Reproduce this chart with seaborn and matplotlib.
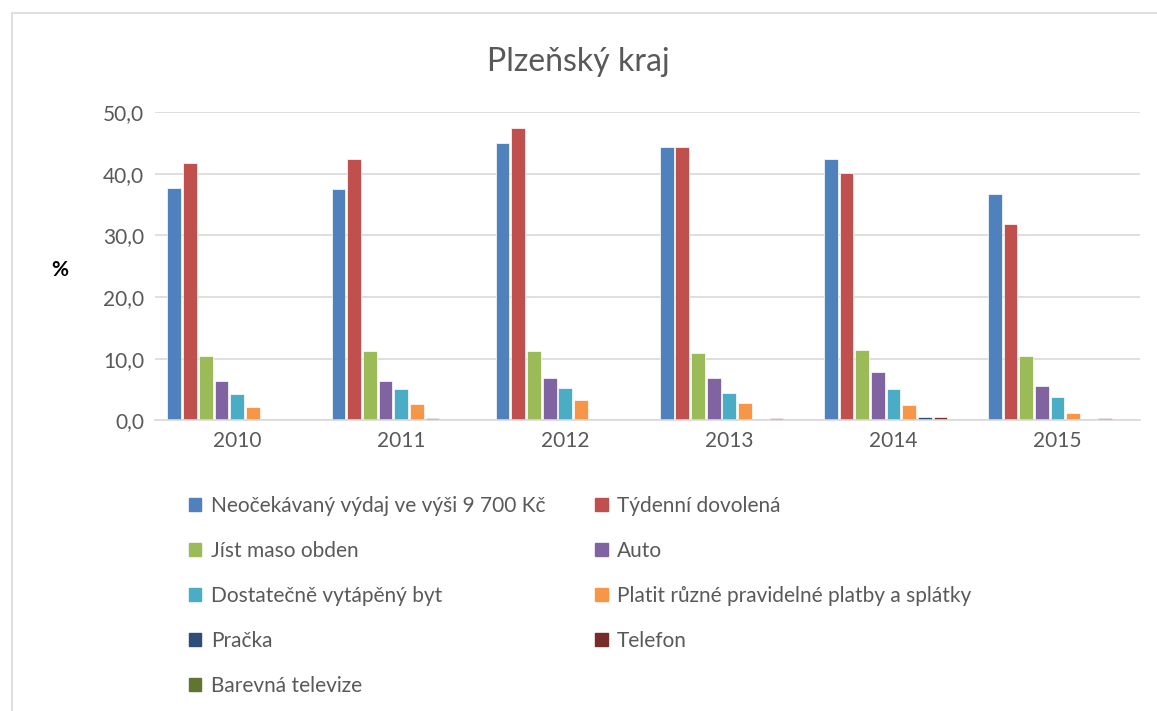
import seaborn as sns
import matplotlib.pyplot as plt
import matplotlib.patches as mpatches
import pandas as pd
from matplotlib.ticker import FuncFormatter

years = ["2010", "2011", "2012", "2013", "2014", "2015"]
series = [
    "Neočekávaný výdaj ve výši 9 700 Kč",
    "Týdenní dovolená",
    "Jíst maso obden",
    "Auto",
    "Dostatečně vytápěný byt",
    "Platit různé pravidelné platby a splátky",
    "Pračka",
    "Telefon",
    "Barevná televize",
]
neocekavany = [37.7, 37.6, 45.0, 44.3, 42.4, 36.7]
dovolena = [41.7, 42.5, 47.4, 44.4, 40.1, 31.9]
maso = [10.5, 11.2, 11.3, 10.9, 11.4, 10.5]
auto = [6.3, 6.3, 6.8, 6.9, 7.8, 5.5]
byt = [4.3, 5.1, 5.2, 4.4, 5.0, 3.8]
platby = [2.1, 2.6, 3.2, 2.8, 2.4, 1.2]
pracka = [0.2, 0.3, 0.0, 0.0, 0.5, 0.0]
telefon = [0.1, 0.0, 0.0, 0.3, 0.5, 0.4]
televize = [0.0, 0.0, 0.0, 0.0, 0.0, 0.0]
colors = ["#4F81BD", "#C0504D", "#9BBB59", "#8064A2", "#4BACC6",
          "#F79646", "#2C4D75", "#772C2A", "#5F7530"]

values = [neocekavany, dovolena, maso, auto, byt, platby, pracka, telefon, televize]
df = pd.DataFrame(
    [(y, s, v) for s, vals in zip(series, values) for y, v in zip(years, vals)],
    columns=["rok", "polozka", "hodnota"],
)

sns.set_theme(style="white")
plt.rcParams["font.family"] = ["Lato", "DejaVu Sans"]

fig = plt.figure(figsize=(11.57, 7.11), dpi=100)
ax = fig.add_axes([0.134, 0.409, 0.851, 0.433])

sns.barplot(data=df, x="rok", y="hodnota", hue="polozka", hue_order=series,
            palette=colors, saturation=1, width=0.86, gap=0.12, ax=ax, legend=False,
            edgecolor="white", linewidth=0.5)

ax.set_ylim(0, 50)
ax.set_xlim(-0.5, 5.5)
ax.set_yticks([0, 10, 20, 30, 40, 50])
ax.yaxis.set_major_formatter(FuncFormatter(lambda v, p: f"{v:.1f}".replace(".", ",")))
ax.yaxis.grid(True, color="#D9D9D9", linewidth=1.2)
ax.set_axisbelow(True)
for side in ["top", "right", "left"]:
    ax.spines[side].set_visible(False)
ax.spines["bottom"].set_color("#D9D9D9")
ax.spines["bottom"].set_linewidth(1.2)
ax.tick_params(axis="both", length=0, labelsize=15, colors="#595959", pad=8)
ax.set_xlabel("")
ax.set_ylabel("%", rotation=0, fontsize=15, fontweight="bold", color="black", labelpad=0)
ax.yaxis.set_label_coords(-0.097, 0.455)

fig.text(0.5, 0.913, "Plzeňský kraj", ha="center", va="center", fontsize=23, color="#595959")

handles = [mpatches.Patch(color=c, label=s) for c, s in zip(colors, series)]
order = [0, 2, 4, 6, 8, 1, 3, 5, 7]
fig.legend([handles[i] for i in order], [series[i] for i in order], ncol=2,
           loc="upper left", bbox_to_anchor=(0.147, 0.329), frameon=False,
           fontsize=15, labelcolor="#595959", handlelength=0.6, handleheight=0.6,
           handletextpad=0.45, columnspacing=2.4, labelspacing=1.2)

fig.patches.append(mpatches.Rectangle((0.0105, -0.01), 0.99, 0.992, transform=fig.transFigure,
                                      fill=False, edgecolor="#D9D9D9", linewidth=1.2))

plt.savefig("out.png", dpi=100)
